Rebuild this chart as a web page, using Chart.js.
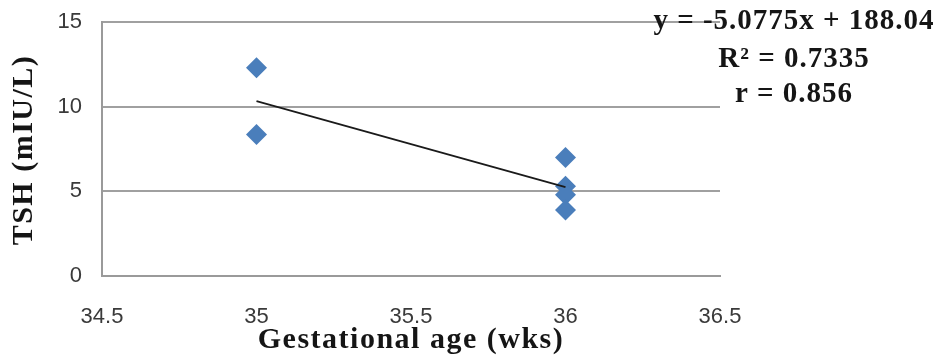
<!DOCTYPE html>
<html>
<head>
<meta charset="utf-8">
<script src="https://cdn.jsdelivr.net/npm/chart.js@4/dist/chart.umd.min.js"></script>
<style>
    html, body { margin: 0; padding: 0; background: #ffffff; }
    #wrap { width: 941px; height: 358px; position: relative; }
</style>
</head>
<body>
<div id="wrap"><canvas id="tshChart" width="941" height="358"></canvas></div>
<script>
// Gestational age (weeks) and TSH readings
const ageWeeks = [35, 35, 36, 36, 36, 36];
const tshValues = [12.3, 8.35, 7.0, 5.3, 4.8, 3.9];

// Linear fit as printed on the chart
const trendSlope = -5.0775;
const trendIntercept = 188.04;
const trendX = [35, 36];
const fitLines = ["y = -5.0775x + 188.04", "R\u00B2 = 0.7335", "r = 0.856"];

// Axis ticks
const xTicks = [34.5, 35, 35.5, 36, 36.5];
const yTicks = [0, 5, 10, 15];

const serif = "'Liberation Serif', 'DejaVu Serif', serif";
const tickFont = "'Liberation Sans', Arial, sans-serif";

// Draw axis titles and regression text
const annotations = {
    id: 'annotations',
    afterDraw(chart) {
        const ctx = chart.ctx;
        const area = chart.chartArea;
        ctx.save();
        ctx.fillStyle = '#151515';
        ctx.textAlign = 'center';
        ctx.textBaseline = 'middle';
        ctx.letterSpacing = '1.5px';

        // y axis title
        ctx.save();
        ctx.translate(24, 150);
        ctx.rotate(-Math.PI / 2);
        ctx.font = "bold 30px " + serif;
        ctx.fillText("TSH (mIU/L)", 0, 0);
        ctx.restore();

        // x axis title
        ctx.font = "bold 30px " + serif;
        ctx.fillText("Gestational age (wks)", (area.left + area.right) / 2, 340);

        // regression equation
        ctx.letterSpacing = '1px';
        ctx.font = "bold 29px " + serif;
        const ys = [22, 60, 95];
        fitLines.forEach((line, i) => {
            ctx.fillText(line, 794, ys[i]);
        });
        ctx.restore();
    }
};

const ctx = document.getElementById("tshChart");
new Chart(ctx, {
    type: "scatter",
    data: {
        datasets: [
            {
                label: "TSH",
                data: ageWeeks.map((x, i) => ({ x: x, y: tshValues[i] })),
                pointStyle: "rectRot",
                pointRadius: 10.5,
                pointHoverRadius: 10.5,
                backgroundColor: "#4a7ebb",
                borderColor: "#4a7ebb",
                borderWidth: 0,
                order: 2
            },
            {
                label: "Linear",
                data: trendX.map(x => ({ x: x, y: trendSlope * x + trendIntercept })),
                showLine: true,
                pointRadius: 0,
                borderColor: "#1a1a1a",
                borderWidth: 1.8,
                order: 1
            }
        ]
    },
    options: {
        responsive: false,
        animation: false,
        layout: { padding: { left: 0, right: 221, top: 22, bottom: 0 } },
        plugins: {
            legend: { display: false },
            tooltip: { enabled: false }
        },
        scales: {
            x: {
                type: "linear",
                min: 34.5,
                max: 36.5,
                afterBuildTicks: scale => { scale.ticks = xTicks.map(v => ({ value: v })); },
                afterFit: scale => {
                    scale.height = 82;
                    scale.paddingLeft = 0;
                    scale.paddingRight = 0;
                },
                grid: { display: false, drawTicks: false },
                border: { display: true, color: "#9a9a9a", width: 2 },
                ticks: {
                    padding: 28,
                    color: "#3a3a3a",
                    font: { family: tickFont, size: 22 },
                    callback: v => v
                }
            },
            y: {
                min: 0,
                max: 15,
                afterBuildTicks: scale => { scale.ticks = yTicks.map(v => ({ value: v })); },
                afterFit: scale => {
                    scale.width = 102;
                    scale.paddingTop = 0;
                    scale.paddingBottom = 0;
                },
                grid: { color: "#a0a0a0", lineWidth: 2, drawTicks: false },
                border: { display: true, color: "#9a9a9a", width: 2 },
                ticks: {
                    padding: 20,
                    color: "#3a3a3a",
                    font: { family: tickFont, size: 22 }
                }
            }
        }
    },
    plugins: [annotations]
});
</script>
</body>
</html>
